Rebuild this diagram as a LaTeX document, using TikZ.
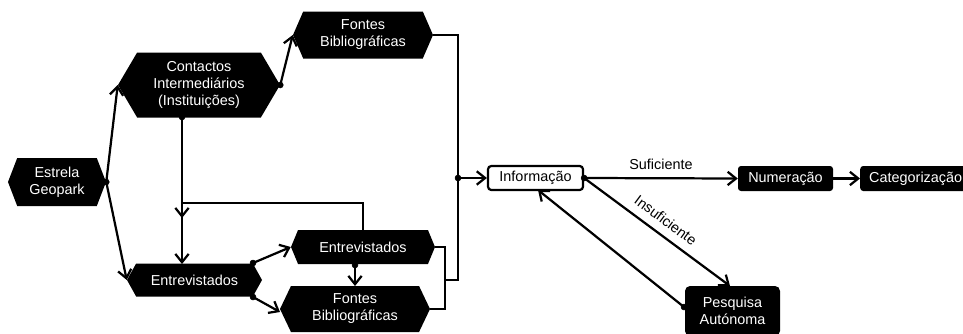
\documentclass[tikz,border=0pt]{standalone}
\usepackage{fontspec}
\setmainfont{Liberation Sans}
\usetikzlibrary{shapes.symbols, arrows.meta}

\tikzset{
  txt/.style={font=\fontsize{12.3}{14.5}\selectfont},
  hexbox/.style={signal, signal to=east and west, signal pointer angle=#1,
    fill=black, text=white, inner sep=0pt, align=center, txt},
  hexbox/.default=125,
  blackbox/.style={rectangle, rounded corners=0.9mm, fill=black, text=white,
    inner sep=0pt, align=center, txt},
  whitebox/.style={rectangle, rounded corners=1mm, draw=black, fill=white,
    line width=1.9pt, inner sep=0pt, txt},
  link/.style={line width=1.9pt, -{Straight Barb[length=2.5mm, width=4mm, line width=1.9pt]}},
  wire/.style={line width=1.9pt},
}

\begin{document}
\begin{tikzpicture}[x=0.3mm, y=-0.3mm]
  \useasboundingbox (0,0) rectangle (963,333);
  \clip (0,0) rectangle (963,333);

  % boxes
  \node[hexbox=138, minimum width=29.4mm, minimum height=14.4mm] (estrela) at (57,182) {Estrela\\Geopark};
  \node[hexbox=119, minimum width=48.6mm, minimum height=19.5mm] (contactos) at (199,85) {Contactos\\Intermediários\\(Instituições)};
  \node[hexbox=133, minimum width=42mm, minimum height=14.1mm] (fontesA) at (363,35) {Fontes\\Bibliográficas};
  \node[hexbox=122, minimum width=40.5mm, minimum height=9.9mm] (entL) at (194.5,280) {Entrevistados};
  \node[hexbox=135, minimum width=43.2mm, minimum height=10.2mm] (entR) at (363,247) {Entrevistados};
  \node[hexbox=129, minimum width=45mm, minimum height=13.8mm] (fontesB) at (355,309) {Fontes\\Bibliográficas};
  \node[whitebox, minimum width=28.5mm, minimum height=7.2mm] (info) at (535.5,178) {Informação};
  \node[blackbox, minimum width=28.5mm, minimum height=7.5mm] (num) at (785.5,178.5) {Numeração};
  \node[blackbox, anchor=west, inner xsep=2.7mm, minimum height=7.5mm] (cat) at (860,178.5) {Categorização};
  \node[blackbox, rounded corners=1.5mm, minimum width=28.5mm, minimum height=15mm] (pesq) at (732.5,311) {Pesquisa\\Autónoma};

  % junction points
  \coordinate (cBot) at (182,117);
  \coordinate (cMid) at (182,203);
  \coordinate (cArr) at (182,218);
  \coordinate (cEnt) at (182,264);
  \coordinate (eTop) at (253,263);
  \coordinate (eBot) at (253,297);
  \coordinate (fIn) at (280,312);
  \coordinate (rBot) at (355,265);
  \coordinate (rFon) at (355,286);
  \coordinate (sideR) at (445,280);
  \coordinate (mainJ) at (458,178);
  \coordinate (pTop) at (730,286);
  \coordinate (pLeft) at (684,307);
  \coordinate (iBot) at (538,190);

  % connectors
  \draw[link] (estrela.east) -- (contactos.west);
  \draw[link] (estrela.east) -- (entL.west);
  \draw[link] (contactos.east) -- (fontesA.west);
  \draw[link] (cBot) -- (cEnt);
  \draw[link] (entR.north) |- (cMid) -- (cArr);
  \draw[link] (eTop) -- (entR.west);
  \draw[link] (eBot) -- (fIn);
  \draw[link] (rBot) -- (rFon);
  \draw[wire] (fontesA.east) -| (mainJ);
  \draw[wire] (entR.east) -| (sideR) |- (fontesB.east);
  \draw[wire] (sideR) -| (mainJ);
  \draw[link] (mainJ) -- (info.west);
  \draw[link] (info.east) -- node[above, txt, yshift=1mm] {Suficiente} (num.west);
  \draw[link] (num.east) -- (cat.west);
  \draw[link] (info.east) -- node[pos=0.5, above=1.3mm, sloped, txt] {Insuficiente} (pTop);
  \draw[link] (pLeft) -- (iBot);

  % dots
  \foreach \p in {estrela.east, contactos.east, cBot, eTop, eBot, rBot, mainJ, info.east, pLeft}
    \filldraw[black] (\p) circle (0.9mm);
\end{tikzpicture}
\end{document}
